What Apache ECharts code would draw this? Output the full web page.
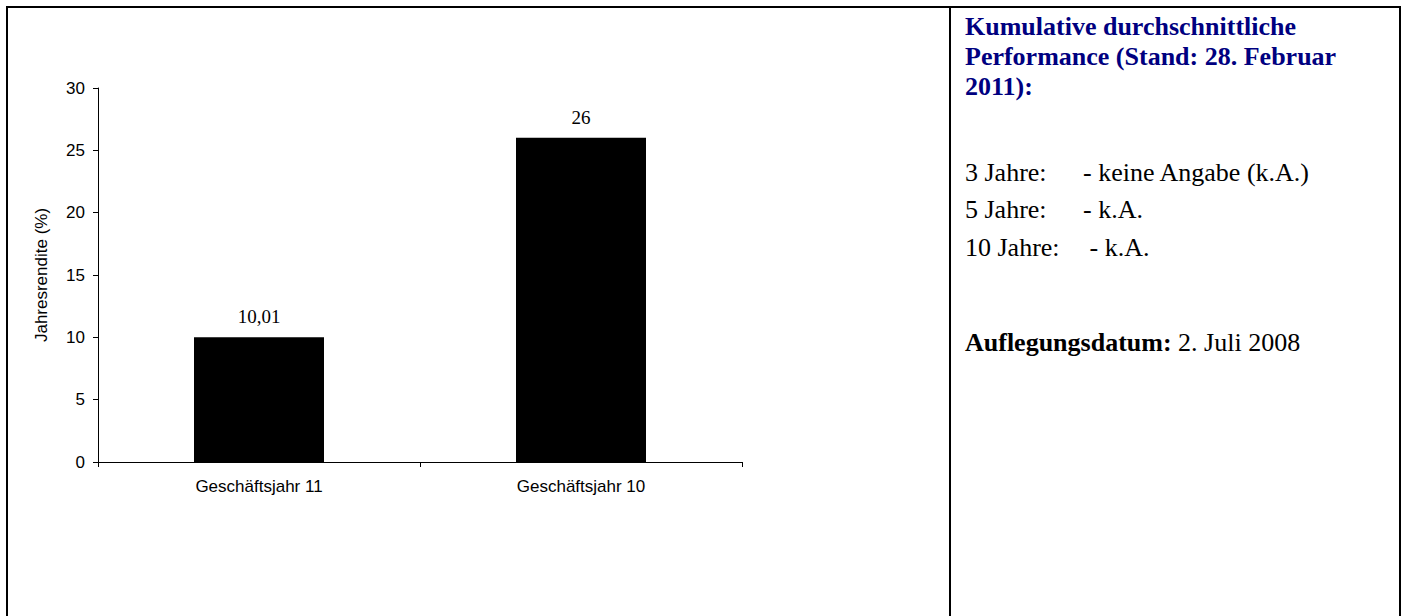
<!DOCTYPE html>
<html>
<head>
<meta charset="utf-8">
<script src="https://cdn.jsdelivr.net/npm/echarts@6/dist/echarts.min.js"></script>
<style>
  html, body { margin: 0; padding: 0; background: #fff; }
  #chart { width: 1401px; height: 616px; }
</style>
</head>
<body>
<div id="chart"></div>
<script>
// Balken: Jahresrendite je Geschäftsjahr
const categories = ["Geschäftsjahr 11", "Geschäftsjahr 10"];
const returns = [10.01, 26];
const yMin = 0, yMax = 30, yStep = 5;

// rechte Spalte
const perfTitle = ["Kumulative durchschnittliche", "Performance (Stand: 28. Februar", "2011):"];
const perfLabels = ["3 Jahre:", "5 Jahre:", "10 Jahre:"];
const perfValues = ["- keine Angabe (k.A.)", "- k.A.", " - k.A."];
const launchLabel = "Auflegungsdatum:";
const launchDate = "2. Juli 2008";

const sans = "Arial, 'Liberation Sans', sans-serif";
const serif = "'Times New Roman', 'Liberation Serif', serif";

let chart = echarts.init(document.getElementById("chart"), null, { renderer: "svg" });

// Texte rechts als graphic-Elemente
let panel = [
  {
    type: "rect",
    shape: { x: 7, y: 7, width: 1393, height: 620 },
    style: { fill: "none", stroke: "#000", lineWidth: 2 },
    silent: true,
  },
  {
    type: "line",
    shape: { x1: 950, y1: 7, x2: 950, y2: 616 },
    style: { stroke: "#000", lineWidth: 2 },
    silent: true,
  },
  {
    type: "text",
    x: 965,
    y: 11,
    style: {
      text: perfTitle.join("\n"),
      font: "bold 26px " + serif,
      fill: "#000080",
      lineHeight: 30,
      verticalAlign: "top",
    },
  },
];
perfLabels.forEach((lab, i) => {
  let y = 172 + i * 37.5;
  panel.push({
    type: "text",
    x: 965,
    y: y,
    style: { text: lab, font: "26px " + serif, fill: "#000", verticalAlign: "middle" },
  });
  panel.push({
    type: "text",
    x: 1083,
    y: y,
    style: { text: perfValues[i], font: "26px " + serif, fill: "#000", verticalAlign: "middle" },
  });
});
panel.push({
  type: "text",
  x: 965,
  y: 342,
  style: {
    text: "{b|" + launchLabel + "} " + launchDate,
    font: "26px " + serif,
    fill: "#000",
    verticalAlign: "middle",
    rich: {
      b: { fontWeight: "bold", fontFamily: serif, fontSize: 26 },
    },
  },
});

let option = {
  backgroundColor: "#fff",
  animation: false,
  grid: { left: 98, right: 659, top: 88, bottom: 154, containLabel: false },
  xAxis: {
    type: "category",
    data: categories,
    axisLine: { lineStyle: { color: "#000", width: 1 } },
    axisTick: { show: true, length: 5, lineStyle: { color: "#000" } },
    axisLabel: { color: "#000", fontFamily: sans, fontSize: 17, margin: 16 },
  },
  yAxis: {
    type: "value",
    min: yMin,
    max: yMax,
    interval: yStep,
    name: "Jahresrendite (%)",
    nameLocation: "middle",
    nameGap: 48,
    nameTextStyle: { color: "#000", fontFamily: sans, fontSize: 17 },
    axisLine: { show: true, lineStyle: { color: "#000", width: 1 } },
    axisTick: { show: true, length: 5, lineStyle: { color: "#000" } },
    axisLabel: { color: "#000", fontFamily: sans, fontSize: 17, margin: 13 },
    splitLine: { show: false },
  },
  series: [
    {
      type: "bar",
      data: returns,
      barWidth: 130,
      itemStyle: { color: "#000" },
      label: {
        show: true,
        position: "top",
        distance: 11,
        color: "#000",
        fontFamily: serif,
        fontSize: 19,
        formatter: (p) => String(p.value).replace(".", ","),
      },
    },
  ],
  graphic: panel,
};

option && chart.setOption(option);
window.addEventListener("resize", () => chart.resize());
</script>
</body>
</html>
